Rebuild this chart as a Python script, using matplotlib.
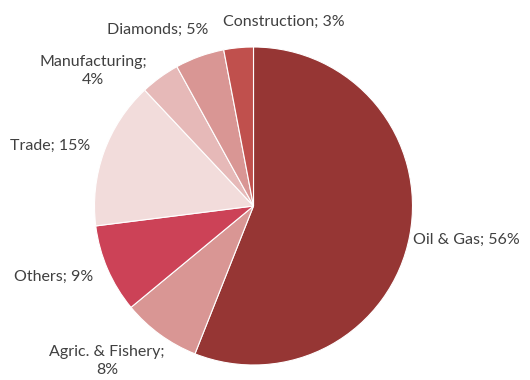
import matplotlib
matplotlib.use("Agg")
import matplotlib.pyplot as plt

# Sector shares of GDP (%)
sectors = ["Oil & Gas", "Agric. & Fishery", "Others", "Trade",
           "Manufacturing", "Diamonds", "Construction"]
shares = [56, 8, 9, 15, 4, 5, 3]
label_texts = ["Oil & Gas; 56%", "Agric. & Fishery;\n8%", "Others; 9%",
               "Trade; 15%", "Manufacturing;\n4%", "Diamonds; 5%",
               "Construction; 3%"]

colors = ["#963634", "#D99694", "#CC4257", "#F2DCDB",
          "#E6B9B8", "#D99694", "#C0504D"]

# label anchor points in figure pixels (x from left, y from top)
label_pos = [(466, 240), (107, 361), (54, 277), (50, 146),
             (93, 71), (158, 30), (284, 22)]

W, H = 530, 380
fig = plt.figure(figsize=(W / 100, H / 100), dpi=100)
ax = fig.add_axes([0, 0, 1, 1])

cx, cy, r = 253.5, H - 206, 159
ax.pie(shares, colors=colors, startangle=90, counterclock=False,
       center=(cx, cy), radius=r, frame=True,
       wedgeprops=dict(edgecolor="white", linewidth=0.8))
ax.set_xlim(0, W)
ax.set_ylim(0, H)
ax.axis("off")

for txt, (x, y) in zip(label_texts, label_pos):
    ax.text(x, H - y, txt, ha="center", va="center", fontsize=11.5,
            family="Lato", color="#404040", linespacing=1.45)

fig.savefig("out.png", dpi=100, facecolor="white")
